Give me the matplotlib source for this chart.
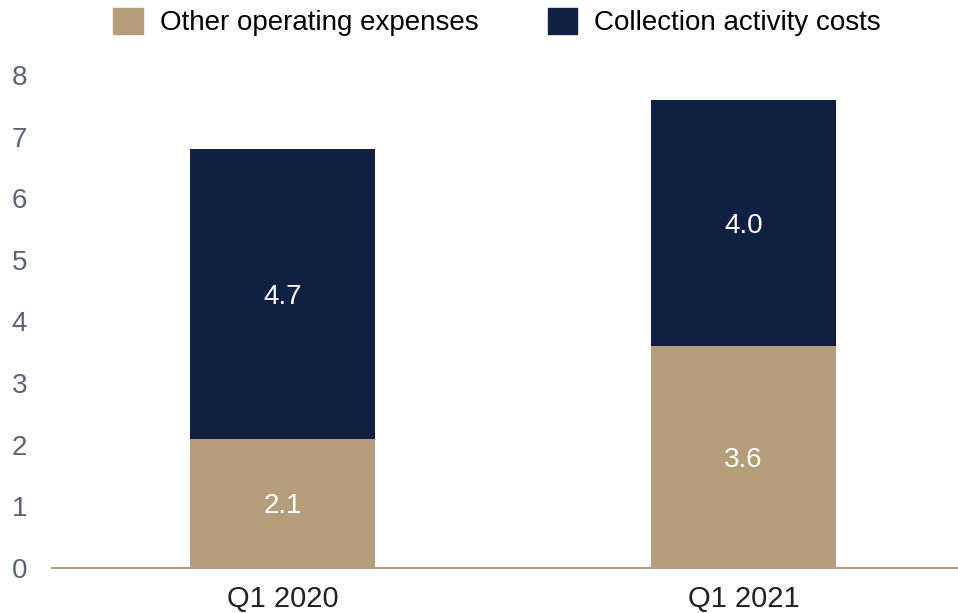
import matplotlib.pyplot as plt
from matplotlib.patches import Patch

plt.rcParams['font.family'] = ['Liberation Sans', 'DejaVu Sans']

# data
quarters = ['Q1 2020', 'Q1 2021']
other_opex = [2.1, 3.6]
collection_costs = [4.7, 4.0]
series_names = ['Other operating expenses', 'Collection activity costs']

beige = '#B49D7B'
navy = '#111F42'

fig = plt.figure(figsize=(9.58, 6.13), dpi=100)
ax = fig.add_axes([0.0543, 0.0734, 0.9457, 0.8043])

x = list(range(len(quarters)))
bars1 = ax.bar(x, other_opex, width=0.4, color=beige, edgecolor='none')
bars2 = ax.bar(x, collection_costs, width=0.4, bottom=other_opex, color=navy, edgecolor='none')

for i in x:
    ax.text(i, other_opex[i] / 2, f'{other_opex[i]:.1f}', ha='center', va='center_baseline',
            color='white', fontsize=20)
    ax.text(i, other_opex[i] + collection_costs[i] / 2, f'{collection_costs[i]:.1f}',
            ha='center', va='center_baseline', color='white', fontsize=20)

ax.set_xlim(-0.5, 1.465)
ax.set_ylim(0, 8)
ax.set_yticks(range(0, 9))
ax.set_xticks(x)
ax.set_xticklabels(quarters, fontsize=21, color='#222222')
ax.tick_params(axis='y', length=0, labelsize=20, labelcolor='#5A6378', pad=29)
ax.tick_params(axis='x', length=0, pad=12)
for lbl in ax.get_yticklabels():
    lbl.set_horizontalalignment('left')

for s in ['top', 'right', 'left']:
    ax.spines[s].set_visible(False)
ax.spines['bottom'].set_color(beige)
ax.spines['bottom'].set_linewidth(1.5)

handles = [Patch(color=beige), Patch(color=navy)]
fig.legend(handles, series_names, loc='center', bbox_to_anchor=(0.519, 0.964),
           ncol=2, frameon=False, fontsize=20, handlelength=1.05, handleheight=1.05,
           handletextpad=0.62, columnspacing=2.5, borderpad=0, borderaxespad=0)

fig.savefig('out.png', dpi=100)
